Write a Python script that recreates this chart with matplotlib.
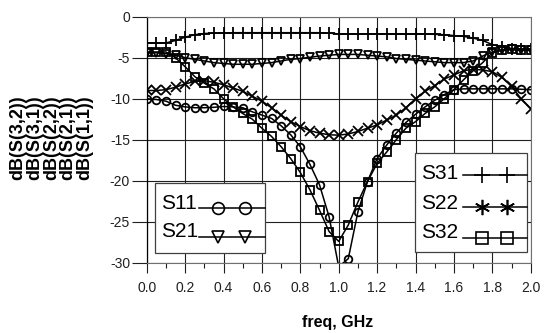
import matplotlib
matplotlib.use('Agg')
import matplotlib.pyplot as plt
from matplotlib import font_manager
from matplotlib.lines import Line2D
from matplotlib.patches import Rectangle
from matplotlib.ticker import MultipleLocator

# ---------------- data ----------------
freq = [0.0, 0.05, 0.1, 0.15, 0.2, 0.25, 0.3, 0.35, 0.4, 0.45,
        0.5, 0.55, 0.6, 0.65, 0.7, 0.75, 0.8, 0.85, 0.9, 0.95,
        1.0, 1.05, 1.1, 1.15, 1.2, 1.25, 1.3, 1.35, 1.4, 1.45,
        1.5, 1.55, 1.6, 1.65, 1.7, 1.75, 1.8, 1.85, 1.9, 1.95, 2.0]

s31 = [-3.2, -3.2, -3.2, -2.9, -2.5, -2.2, -2.05, -2.0, -2.0, -1.95,
       -1.95, -1.95, -1.95, -1.95, -1.95, -1.95, -1.95, -1.95, -1.95, -2.0,
       -2.1, -2.1, -2.1, -2.1, -2.1, -2.1, -2.1, -2.1, -2.1, -2.1,
       -2.15, -2.2, -2.3, -2.4, -2.6, -2.9, -3.4, -3.7, -3.9, -4.0, -4.0]

s21 = [-4.4, -4.4, -4.5, -4.7, -5.0, -5.2, -5.4, -5.6, -5.7, -5.8,
       -5.8, -5.8, -5.7, -5.6, -5.4, -5.2, -5.1, -4.95, -4.8, -4.7,
       -4.6, -4.6, -4.6, -4.7, -4.8, -4.9, -5.1, -5.2, -5.3, -5.4,
       -5.5, -5.6, -5.6, -5.6, -5.4, -4.8, -4.3, -4.1, -4.0, -4.1, -4.1]

s32 = [-4.3, -4.3, -4.3, -5.0, -6.1, -7.3, -8.1, -8.8, -10.0, -11.0,
       -11.8, -12.5, -13.6, -14.6, -15.85, -17.3, -19.0, -21.1, -23.6, -26.2,
       -27.4, -25.4, -22.6, -20.1, -17.9, -16.5, -15.0, -13.6, -12.8, -11.8,
       -11.0, -10.0, -8.9, -7.7, -6.6, -5.6, -4.4, -4.05, -4.0, -4.05, -4.1]

s11 = [-10.0, -10.1, -10.3, -10.8, -11.0, -11.1, -11.1, -11.05, -10.95, -11.0,
       -11.1, -11.6, -12.0, -12.4, -13.3, -14.4, -15.85, -18.0, -20.5, -24.4,
       -30.5, -29.5, -23.8, -20.1, -17.3, -15.65, -14.2, -12.9, -11.9, -11.0,
       -10.2, -9.5, -8.9, -8.8, -8.8, -8.8, -8.8, -8.8, -8.8, -8.85, -8.9]

s22 = [-9.0, -9.0, -8.9, -8.6, -8.2, -7.9, -7.8, -8.0, -8.3, -8.7,
       -9.1, -9.7, -10.3, -11.1, -12.0, -12.8, -13.4, -13.9, -14.2, -14.4,
       -14.45, -14.3, -14.0, -13.6, -13.2, -12.6, -12.0, -11.1, -10.0, -9.1,
       -8.4, -7.6, -7.1, -6.6, -6.4, -6.5, -6.7, -7.4, -8.5, -10.0, -11.2]

ylabels = ['dB(S(3,2))', 'dB(S(3,1))', 'dB(S(2,2))', 'dB(S(2,1))', 'dB(S(1,1))']
xticks = [0.0, 0.2, 0.4, 0.6, 0.8, 1.0, 1.2, 1.4, 1.6, 1.8, 2.0]
yticks = [0, -5, -10, -15, -20, -25, -30]

# ---------------- fonts ----------------
names = {f.name for f in font_manager.fontManager.ttflist}
NARROW = 'Liberation Sans Narrow' if 'Liberation Sans Narrow' in names else 'Liberation Sans'
SANS = 'Liberation Sans'
ASTERISK = (6, 2, 0)

W, H = 546, 333
fig = plt.figure(figsize=(W / 100, H / 100), dpi=100)

L, R, T, B = 146.7, 530.7, 16.7, 262.7
ax = fig.add_axes([L / W, 1 - B / H, (R - L) / W, (B - T) / H])

mk = dict(color='black', lw=1.1, markersize=5.5, markeredgewidth=1.3,
          markerfacecolor='none', markeredgecolor='black')
ax.plot(freq, s31, marker='+', **{**mk, 'markersize': 8})
ax.plot(freq, s21, marker='v', **mk)
ax.plot(freq, s22, marker='x', **{**mk, 'markersize': 6.5})
ax.plot(freq, s11, marker='o', **mk)
ax.plot(freq, s32, marker='s', **mk)

ax.set_xlim(0, 2.0)
ax.set_ylim(-30, 0)
ax.set_xticks(xticks)
ax.set_xticklabels([f'{v:.1f}' for v in xticks])
ax.set_yticks(yticks)
ax.set_yticklabels([str(v) for v in yticks])
ax.xaxis.set_minor_locator(MultipleLocator(0.1))
ax.grid(True, which='major', color='#202020', lw=0.8)
ax.set_axisbelow(True)

for s in ['top', 'right', 'bottom']:
    ax.spines[s].set_color('#707070')
    ax.spines[s].set_linewidth(0.8)
ax.spines['left'].set_color('black')
ax.spines['left'].set_linewidth(0.9)

ax.tick_params(axis='y', which='major', length=11, width=0.8, pad=1, color='#202020')
ax.tick_params(axis='x', which='major', length=7, width=0.8, pad=6, color='#202020')
ax.tick_params(axis='x', which='minor', length=3.5, width=0.8, color='#202020')
for lab in ax.get_xticklabels() + ax.get_yticklabels():
    lab.set_fontfamily(NARROW)
    lab.set_fontsize(11 if NARROW != SANS else 10)
    lab.set_color('#202020')

# stacked y labels
xs = [18, 35, 52, 68, 85]
for x, t in zip(xs, ylabels):
    fig.text(x / W, 1 - 138 / H, t, rotation=90, ha='center', va='center',
             fontsize=13, fontweight='bold', family=SANS)

fig.text(338 / W, 1 - 323 / H, 'freq, GHz', ha='center', va='center',
         fontsize=11.5, fontweight='bold', family=SANS)


def fx(px):
    return px / W


def fy(py):
    return 1 - py / H


def legend_box(x0, y0, x1, y1, entries, mx):
    fig.add_artist(Rectangle((fx(x0), fy(y1)), fx(x1) - fx(x0), fy(y0) - fy(y1),
                             transform=fig.transFigure, facecolor='white',
                             edgecolor='#404040', lw=0.9, zorder=5))
    for label, marker, ty, ly, lx0, ms in entries:
        fig.text(fx(x0 + 6), fy(ty), label, ha='left', va='center',
                 fontsize=17 if NARROW != SANS else 15, family=NARROW,
                 color='black', zorder=6)
        fig.add_artist(Line2D([fx(lx0), fx(x1)], [fy(ly), fy(ly)],
                              transform=fig.transFigure, color='black', lw=1.1, zorder=6))
        fig.add_artist(Line2D([fx(m) for m in mx], [fy(ly)] * len(mx),
                              transform=fig.transFigure, ls='none', marker=marker,
                              markersize=ms, markerfacecolor='none',
                              markeredgecolor='black', markeredgewidth=1.2, zorder=7))


legend_box(155, 183, 265, 253,
           [('S11', 'o', 203.3, 208.3, 199, 8.5),
            ('S21', 'v', 231.7, 237.3, 199, 8.5)],
           [218.3, 245])
legend_box(415, 153, 527, 252,
           [('S31', '+', 173.3, 175, 462.5, 11),
            ('S22', ASTERISK, 203.3, 206.7, 462.5, 11),
            ('S32', 's', 232.5, 238.3, 462.5, 8.5)],
           [481.7, 506.7])

fig.savefig('out.png', dpi=100)
